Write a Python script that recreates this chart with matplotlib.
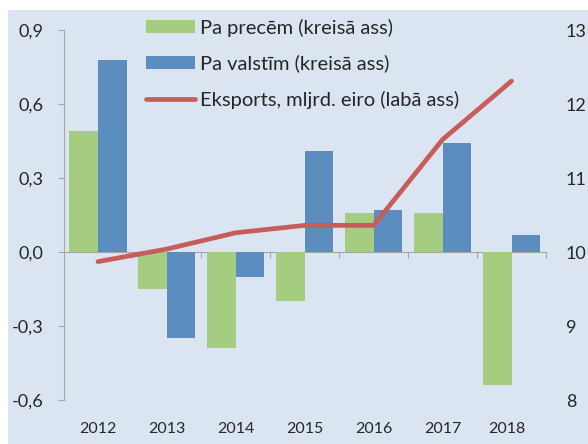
import matplotlib
matplotlib.use("Agg")
import matplotlib.pyplot as plt
from matplotlib.patches import Rectangle
from matplotlib.transforms import ScaledTranslation
import numpy as np

years = ["2012", "2013", "2014", "2015", "2016", "2017", "2018"]
pa_precem = [0.49, -0.15, -0.39, -0.20, 0.16, 0.16, -0.54]
pa_valstim = [0.78, -0.35, -0.10, 0.41, 0.17, 0.44, 0.07]
eksports = [9.87, 10.04, 10.26, 10.36, 10.36, 11.52, 12.31]
left_ticks = [-0.6, -0.3, 0.0, 0.3, 0.6, 0.9]
left_tick_labels = ["-0,6", "-0,3", "0,0", "0,3", "0,6", "0,9"]
right_ticks = [8, 9, 10, 11, 12, 13]
labels = ["Pa precēm (kreisā ass)", "Pa valstīm (kreisā ass)", "Eksports, mljrd. eiro (labā ass)"]

bg = "#dbe5f1"
green = "#a5cd82"
blue = "#5b8dbf"
red = "#c65d5a"
axis_gray = "#a6a6a6"
text_color = "#262626"

plt.rcParams['font.family'] = ['Lato', 'DejaVu Sans']

W, H = 588, 444
fig = plt.figure(figsize=(W / 100, H / 100), dpi=100)
fig.patch.set_facecolor("white")
fig.patches.append(Rectangle((8 / W, 0), 1 - 8 / W, (H - 10) / H, transform=fig.transFigure,
                             facecolor=bg, edgecolor="none", zorder=-10))

ax = fig.add_axes([63.5 / W, 44 / H, 482.5 / W, 370 / H])
ax.set_facecolor("none")
x = np.arange(len(years))
bw = 0.415
b1 = ax.bar(x - bw / 2, pa_precem, width=bw, color=green, zorder=2)
b2 = ax.bar(x + bw / 2, pa_valstim, width=bw, color=blue, zorder=2)
ax.set_xlim(-0.5, len(years) - 0.5)
ax.set_ylim(-0.6, 0.9)
ax.set_yticks(left_ticks)
ax.set_yticklabels(left_tick_labels)
for s in ["top", "right", "bottom"]:
    ax.spines[s].set_visible(False)
ax.spines["left"].set_color(axis_gray)
ax.spines["left"].set_linewidth(0.8)
ax.tick_params(axis="y", direction="out", length=4.3, width=0.8, color=axis_gray,
               labelsize=13, labelcolor=text_color, pad=10)
ax.set_xticks(x)
ax.set_xticklabels(years)
ax.tick_params(axis="x", length=0, labelsize=11.5, labelcolor=text_color, pad=16)
last = ax.get_xticklabels()[-1]
last.set_transform(last.get_transform() + ScaledTranslation(-5 / 100, 0, fig.dpi_scale_trans))

# zero axis with category separator ticks
sec = ax.secondary_xaxis(0.4)
sec.spines["bottom"].set_color(axis_gray)
sec.spines["bottom"].set_linewidth(0.8)
sec.set_xticks(np.arange(len(years)) + 0.5)
sec.tick_params(axis="x", direction="out", length=4.3, width=0.8, color=axis_gray, labelbottom=False)

ax2 = ax.twinx()
ax2.set_ylim(8, 13)
ax2.set_yticks(right_ticks)
for s in ax2.spines.values():
    s.set_visible(False)
ax2.tick_params(axis="y", length=0, labelsize=13, labelcolor=text_color, pad=14.4)
l1, = ax2.plot(x, eksports, color=red, linewidth=3.4, solid_capstyle="round",
               solid_joinstyle="round", zorder=3)

leg = fig.legend([b1, b2, l1], labels, loc="upper left",
                 bbox_to_anchor=(146 / W, (H - 18.5) / H), frameon=False,
                 fontsize=14.5, handlelength=2.44, handleheight=0.6, handletextpad=0.25,
                 labelspacing=0.9, borderpad=0, borderaxespad=0)
for t in leg.get_texts():
    t.set_color(text_color)

fig.savefig("out.png", dpi=100, facecolor=fig.get_facecolor())
